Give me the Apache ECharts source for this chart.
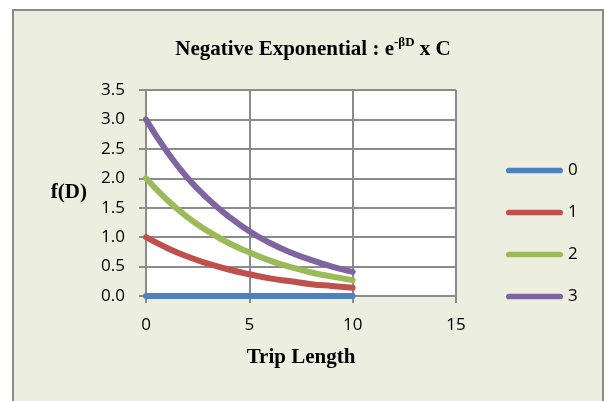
<!DOCTYPE html>
<html>
<head>
<meta charset="utf-8">
<script src="https://cdn.jsdelivr.net/npm/echarts@6/dist/echarts.min.js"></script>
<style>
  html, body { margin: 0; padding: 0; background: #ffffff; }
  #chart { width: 605px; height: 401px; }
</style>
</head>
<body>
<div id="chart"></div>
<script>
// Trip length D (x) and f(D) = e^(-beta D) * C for each constant C
const tripLength = [0, 1, 2, 3, 4, 5, 6, 7, 8, 9, 10];
const seriesNames = ['0', '1', '2', '3'];
const valuesC0 = [0, 0, 0, 0, 0, 0, 0, 0, 0, 0, 0];
const valuesC1 = [1.00, 0.82, 0.67, 0.55, 0.45, 0.37, 0.30, 0.25, 0.20, 0.17, 0.14];
const valuesC2 = [2.00, 1.64, 1.34, 1.10, 0.90, 0.74, 0.60, 0.49, 0.40, 0.33, 0.27];
const valuesC3 = [3.00, 2.46, 2.01, 1.65, 1.35, 1.10, 0.90, 0.74, 0.61, 0.50, 0.41];
const seriesColors = ['#4F81BD', '#C0504D', '#9BBB59', '#8064A2'];

const allValues = [valuesC0, valuesC1, valuesC2, valuesC3];
const gridColor = '#8c8c8c';
const sansFont = '"Open Sans", "Liberation Sans", sans-serif';
const serifFont = '"Liberation Serif", "DejaVu Serif", serif';

const chart = echarts.init(document.getElementById('chart'), null, { renderer: 'canvas' });

chart.setOption({
  backgroundColor: '#ffffff',
  animation: false,
  graphic: [{
    type: 'rect',
    z: -10,
    shape: { x: 13, y: 10, width: 590, height: 400 },
    style: { fill: '#ECEFDF', stroke: '#8a8a8a', lineWidth: 2 }
  }],
  title: {
    text: '{a|Negative Exponential : e}{s|-βD}{a| x C}',
    left: 308,
    top: 31,
    textAlign: 'center',
    textStyle: {
      rich: {
        a: { fontFamily: serifFont, fontWeight: 'bold', fontSize: 21, color: '#000', lineHeight: 24, verticalAlign: 'bottom' },
        s: { fontFamily: serifFont, fontWeight: 'bold', fontSize: 13, color: '#000', lineHeight: 20, verticalAlign: 'top' }
      }
    }
  },
  grid: {
    left: 146, top: 90, width: 310, height: 206,
    show: true, backgroundColor: '#ffffff', borderWidth: 0
  },
  legend: {
    orient: 'vertical',
    left: 506,
    top: 162,
    padding: 0,
    itemWidth: 57,
    itemHeight: 6,
    itemGap: 25,
    itemTextGap: 0,
    icon: 'path://M3,0 L57,0 A3,3 0 0 1 57,6 L3,6 A3,3 0 0 1 3,0 Z',
    textStyle: { fontFamily: sansFont, fontSize: 17, color: '#000' },
    data: seriesNames
  },
  xAxis: {
    type: 'value',
    min: 0, max: 15, interval: 5,
    name: 'Trip Length',
    nameLocation: 'middle',
    nameGap: 51,
    nameTextStyle: { fontFamily: serifFont, fontWeight: 'bold', fontSize: 21, color: '#000' },
    axisLine: { show: true, onZero: false, lineStyle: { color: gridColor, width: 2 } },
    axisTick: { show: true, length: 7, lineStyle: { color: gridColor, width: 2 } },
    axisLabel: { fontFamily: sansFont, fontSize: 17, color: '#000', margin: 21 },
    splitLine: { show: true, lineStyle: { color: gridColor, width: 2 } }
  },
  yAxis: {
    type: 'value',
    min: 0, max: 3.5, interval: 0.5,
    name: 'f(D)',
    nameLocation: 'middle',
    nameRotate: 0,
    nameGap: 59,
    nameTextStyle: { fontFamily: serifFont, fontWeight: 'bold', fontSize: 21, color: '#000', padding: [6, 0, 0, 0] },
    axisLine: { show: true, lineStyle: { color: gridColor, width: 2 } },
    axisTick: { show: true, length: 7, lineStyle: { color: gridColor, width: 2 } },
    axisLabel: {
      fontFamily: sansFont, fontSize: 17, color: '#000', margin: 21,
      formatter: v => v.toFixed(1)
    },
    splitLine: { show: true, lineStyle: { color: gridColor, width: 2 } }
  },
  series: seriesNames.map((name, i) => ({
    name: name,
    type: 'line',
    smooth: true,
    showSymbol: false,
    symbol: 'none',
    color: seriesColors[i],
    lineStyle: { width: 6, color: seriesColors[i], cap: 'round' },
    data: tripLength.map((d, k) => [d, allValues[i][k]])
  }))
});
</script>
</body>
</html>
